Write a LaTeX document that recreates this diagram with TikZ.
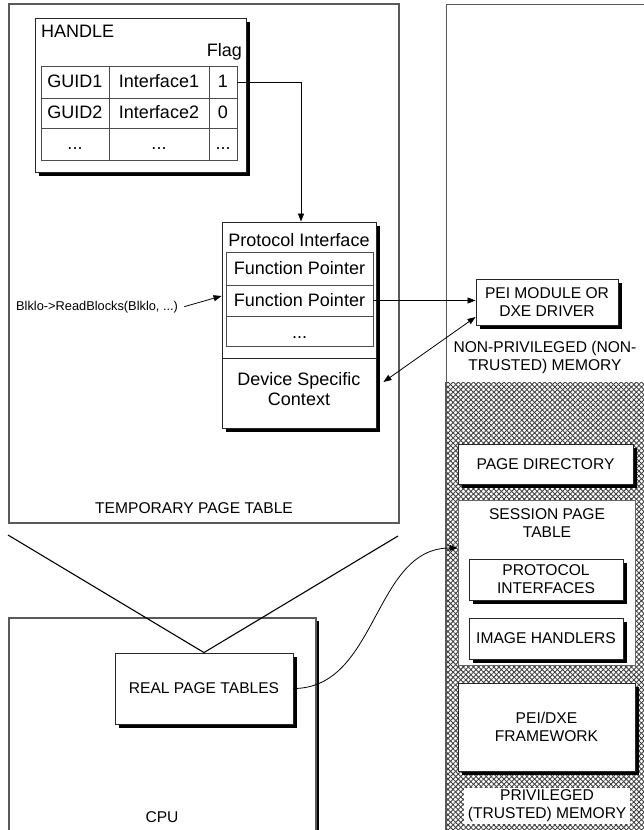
\documentclass[tikz,border=0pt]{standalone}
\usepackage{fontspec}
\setmainfont{Liberation Sans}
\usetikzlibrary{arrows.meta,shadows,patterns.meta}

\tikzset{
  outerframe/.style={draw=black!65, line width=1.3pt},
  shadebox/.style={draw=black!85, line width=0.9pt, fill=white, inner sep=0pt,
    drop shadow={shadow xshift=3.5pt, shadow yshift=-3.5pt, fill=black, opacity=1}},
  capsfont/.style={font=\fontsize{15.6}{18}\selectfont, align=center, inner sep=0pt},
  mixfont/.style={font=\fontsize{18}{20}\selectfont, inner sep=0pt},
  smallfont/.style={font=\fontsize{12.8}{15}\selectfont, inner sep=0pt},
  tablegrid/.style={draw=black!70, line width=0.9pt},
  cell/.style={inner sep=0pt},
  link/.style={draw=black, line width=0.8pt},
  arrowend/.style={-{Triangle[length=8pt,width=6pt]}},
  bothends/.style={{Triangle[length=8pt,width=6pt]}-{Triangle[length=8pt,width=6pt]}},
  vline/.style={draw=black, line width=1.1pt},
  hatch/.style={pattern={Lines[angle=#1,distance=3.6pt,line width=0.9pt]}, pattern color=black!75},
}

\begin{document}
\begin{tikzpicture}[x=1pt,y=-1pt]
\useasboundingbox (0,0) rectangle (643,830);

% ---- outer regions ----
\node[outerframe, minimum width=390pt, minimum height=519pt] (tpt) at (204,263.5) {};
\node[capsfont] (tptlbl) at (194,508) {TEMPORARY PAGE TABLE};

% non-privileged memory column (runs off the right and bottom edges)
\node[outerframe, anchor=north west, minimum width=220pt, minimum height=850pt] (npm) at (446,4) {};
% privileged (trusted) memory, cross-hatched
\path[hatch=45] (446.6,382) rectangle (660,840);
\path[hatch=-45] (446.6,382) rectangle (660,840);
\draw[outerframe, line width=1.6pt] (446,382) -- (446,840);
\node[capsfont] (npmlbl) at (545,357) {NON-PRIVILEGED (NON-\\TRUSTED) MEMORY};

% CPU
\node[outerframe, fill=white, minimum width=307pt, minimum height=230pt,
  drop shadow={shadow xshift=3pt, shadow yshift=-3pt, fill=black, opacity=1}] (cpu) at (162.5,733) {};
\node[capsfont] (cpulbl) at (162,817) {CPU};

% ---- handle database ----
\node[shadebox, minimum width=211pt, minimum height=154pt] (handle) at (140.5,95) {};
\node[mixfont, anchor=base west] (handlelbl) at (41,37) {HANDLE};
\node[mixfont, anchor=base east] (flaglbl) at (242,56) {Flag};
\node[tablegrid, minimum width=196pt, minimum height=94pt] (htab) at (139,113) {};
\draw[tablegrid] (41,98) -- (237,98);
\draw[tablegrid] (41,128) -- (237,128);
\draw[tablegrid] (109,66) -- (109,160);
\draw[tablegrid] (209,66) -- (209,160);
\node[cell, minimum width=28pt, minimum height=32pt] (c13) at (223,82) {};
\node[mixfont, anchor=base] (g1) at (75,87) {GUID1};
\node[mixfont, anchor=base] (i1) at (159,87) {Interface1};
\node[mixfont, anchor=base] (f1) at (223,87) {1};
\node[mixfont, anchor=base] (g2) at (75,118) {GUID2};
\node[mixfont, anchor=base] (i2) at (159,118) {Interface2};
\node[mixfont, anchor=base] (f2) at (223,118) {0};
\node[mixfont, anchor=base] (g3) at (75,149) {...};
\node[mixfont, anchor=base] (i3) at (159,149) {...};
\node[mixfont, anchor=base] (f3) at (223,149) {...};

% ---- protocol interface ----
\node[shadebox, minimum width=154pt, minimum height=206pt] (pi) at (299,325) {};
\node[mixfont, anchor=base] (pilbl) at (299,246) {Protocol Interface};
\node[tablegrid, minimum width=147pt, minimum height=94pt] (pitab) at (299.5,299) {};
\draw[tablegrid] (226,285) -- (373,285);
\draw[tablegrid] (226,316) -- (373,316);
\node[cell, minimum width=147pt, minimum height=31pt] (fp2) at (299.5,300.5) {};
\node[mixfont, anchor=base] (fp1txt) at (299.5,274) {Function Pointer};
\node[mixfont, anchor=base] (fp2txt) at (299.5,306) {Function Pointer};
\node[mixfont, anchor=base] (fp3txt) at (299.5,338) {...};
\draw[draw=black!85, line width=0.9pt] (222,358) -- (376,358);
\node[mixfont, anchor=base] (dsc1) at (299,385) {Device Specific};
\node[mixfont, anchor=base] (dsc2) at (299,405) {Context};

\node[smallfont, anchor=base west] (call) at (16,310) {Blklo->ReadBlocks(Blklo, ...)};

% ---- driver ----
\node[shadebox, capsfont, minimum width=142pt, minimum height=46pt] (pei) at (547,302) {PEI MODULE OR\\DXE DRIVER};

% ---- privileged memory contents ----
\node[shadebox, capsfont, minimum width=175pt, minimum height=40pt] (pgdir) at (545.5,464) {PAGE DIRECTORY};
\node[draw=black!60, line width=1pt, fill=white, minimum width=177pt, minimum height=165pt] (session) at (546.5,582.5) {};
\node[capsfont] (sessionlbl) at (547,523.5) {SESSION PAGE\\TABLE};
\node[shadebox, capsfont, minimum width=154pt, minimum height=41pt] (protos) at (546,579.5) {PROTOCOL\\INTERFACES};
\node[shadebox, capsfont, minimum width=154pt, minimum height=41pt] (images) at (546,638.5) {IMAGE HANDLERS};
\node[shadebox, capsfont, minimum width=177pt, minimum height=88pt] (fw) at (546.5,727) {PEI/DXE\\FRAMEWORK};
\node[capsfont, fill=white, inner xsep=4pt, inner ysep=2pt] (pmlbl) at (547,806) {PRIVILEGED\\(TRUSTED) MEMORY};

% ---- real page tables ----
\node[shadebox, capsfont, minimum width=178pt, minimum height=71pt] (rpt) at (204,688.5) {REAL PAGE TABLES};
\coordinate (vl) at (8,535);
\coordinate (vr) at (398,536);
\draw[vline] (vl) -- (rpt.north) -- (vr);

% ---- connectors ----
\draw[link, arrowend] (c13.east) -| ([xshift=2pt]pi.north);
\draw[link, arrowend] ([xshift=6pt]call.east) -- ([yshift=29pt]pi.west);
\draw[link, arrowend] (fp2.east) -- (fp2.east -| pei.west);
\draw[link, bothends] ([yshift=-15pt]pei.west) -- ([xshift=7pt,yshift=-57pt]pi.east);
\draw[link, arrowend] (rpt.east) to[out=0,in=180] ([yshift=34.5pt]session.west);
\end{tikzpicture}
\end{document}
